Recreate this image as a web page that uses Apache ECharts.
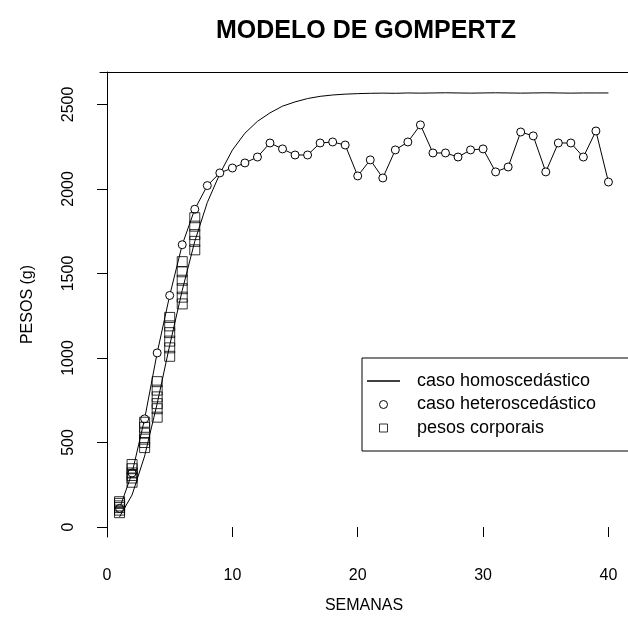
<!DOCTYPE html>
<html>
<head>
<meta charset="utf-8">
<script src="https://cdn.jsdelivr.net/npm/echarts@6/dist/echarts.min.js"></script>
<style>html,body{margin:0;padding:0;background:#fff}#c{width:628px;height:628px}</style>
</head>
<body>
<div id="c"></div>
<script>
// ---- data ----
var weeks = [1,2,3,4,5,6,7,8,9,10,11,12,13,14,15,16,17,18,19,20,21,22,23,24,25,26,27,28,29,30,31,32,33,34,35,36,37,38,39,40];
var homoscedastic = [60,190,420,730,1075,1400,1690,1920,2090,2230,2330,2400,2450,2490,2515,2535,2548,2556,2561,2564,2566,2567,2566,2568,2567,2568,2569,2568,2567,2568,2569,2568,2567,2568,2569,2568,2567,2568,2568,2568];
var heteroscedastic = [110,320,640,1030,1370,1670,1880,2020,2095,2124,2154,2189,2272,2237,2201,2201,2272,2278,2260,2077,2172,2065,2231,2278,2379,2213,2213,2189,2231,2237,2101,2130,2337,2314,2101,2272,2272,2189,2343,2041];
var obsWeeks = [1,1,1,1,1,1, 2,2,2,2,2,2, 3,3,3,3,3,3, 4,4,4,4,4,4, 5,5,5,5,5,5, 6,6,6,6,6,6, 7,7,7,7,7];
var obsWeights = [85,100,115,125,140,150, 265,290,305,320,345,370, 470,500,520,555,590,620, 650,700,730,770,810,860, 1010,1060,1100,1150,1190,1240, 1320,1360,1410,1460,1510,1570, 1640,1690,1730,1780,1830];
var xTicks = [0,10,20,30,40];
var yTicks = [0,500,1000,1500,2000,2500];
var seriesNames = ['caso homoscedástico','caso heteroscedástico','pesos corporais'];

function pairs(xs, ys){ return xs.map(function(x,i){ return [x, ys[i]]; }); }

var FONT = 'Liberation Sans';
var chart = echarts.init(document.getElementById('c'), null, {renderer:'canvas'});
chart.setOption({
  animation:false,
  backgroundColor:'#fff',
  textStyle:{fontFamily:FONT, color:'#000'},
  title:{
    text:'MODELO DE GOMPERTZ', left:216, top:19, padding:0,
    textStyle:{fontFamily:FONT, fontWeight:'bold', fontSize:25, color:'#000'}
  },
  grid:{left:100, top:72, width:537, height:465, containLabel:false},
  xAxis:[{
    type:'value', min:-0.56, max:41.56, position:'bottom',
    name:'SEMANAS', nameLocation:'middle', nameGap:61,
    nameTextStyle:{fontFamily:FONT, fontSize:16, color:'#000'},
    axisLine:{show:false},
    axisTick:{show:true, length:10, inside:false, customValues:xTicks, lineStyle:{color:'#000', width:1}},
    axisLabel:{customValues:xTicks, margin:31, fontSize:16, color:'#000', fontFamily:FONT,
      formatter:function(v){ return String(v); }},
    splitLine:{show:false}
  },{
    type:'value', min:-0.56, max:41.56, position:'top',
    axisLine:{show:true, lineStyle:{color:'#000', width:1}},
    axisTick:{show:false}, axisLabel:{show:false}, splitLine:{show:false}
  }],
  yAxis:{
    type:'value', min:-59, max:2692,
    name:'PESOS (g)', nameLocation:'middle', nameGap:64,
    nameTextStyle:{fontFamily:FONT, fontSize:16, color:'#000'},
    axisLine:{show:true, lineStyle:{color:'#000', width:1}},
    axisTick:{show:true, length:10, customValues:yTicks, lineStyle:{color:'#000', width:1}},
    axisLabel:{customValues:yTicks, rotate:90, margin:23, fontSize:16, color:'#000', fontFamily:FONT,
      formatter:function(v){ return String(v); }},
    splitLine:{show:false}
  },
  legend:{
    orient:'vertical', left:362, top:358,
    padding:[14,60,14,5], itemGap:5.5, itemWidth:33, itemHeight:8,
    borderColor:'#000', borderWidth:1, backgroundColor:'#fff',
    textStyle:{fontFamily:FONT, fontSize:18, color:'#000', lineHeight:18, padding:[0,0,0,12]},
    data:[
      {name:seriesNames[0], icon:'path://M0,0L100,0L100,4L0,4Z', itemStyle:{color:'#000', borderWidth:0}},
      {name:seriesNames[1], icon:'circle', itemStyle:{color:'#fff', borderColor:'#000', borderWidth:1}},
      {name:seriesNames[2], icon:'path://M0,0L10,0L10,10L0,10Z', itemStyle:{color:'rgba(0,0,0,0)', borderColor:'#000', borderWidth:1}}
    ]
  },
  series:[{
    name:seriesNames[0], type:'line', data:pairs(weeks, homoscedastic),
    symbol:'none', lineStyle:{color:'#000', width:1}, itemStyle:{color:'#000'}, z:2
  },{
    name:seriesNames[1], type:'line', data:pairs(weeks, heteroscedastic),
    symbol:'circle', symbolSize:8, showAllSymbol:true,
    lineStyle:{color:'#000', width:1},
    itemStyle:{color:'#fff', borderColor:'#000', borderWidth:1}, z:3
  },{
    name:seriesNames[2], type:'scatter', data:pairs(obsWeeks, obsWeights),
    symbol:'rect', symbolSize:10,
    itemStyle:{color:'rgba(0,0,0,0)', borderColor:'#000', borderWidth:1}, z:4
  }]
});
</script>
</body>
</html>
